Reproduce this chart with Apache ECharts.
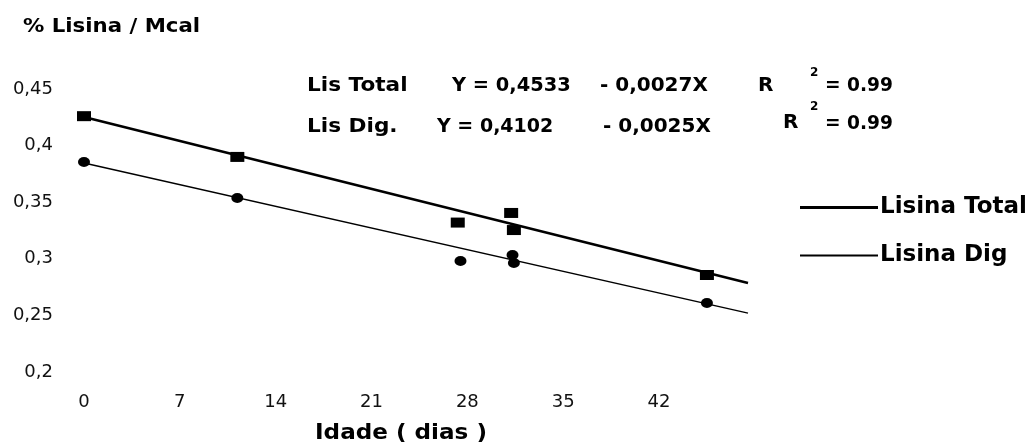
<!DOCTYPE html>
<html>
<head>
<meta charset="utf-8">
<script src="https://cdn.jsdelivr.net/npm/echarts@6/dist/echarts.min.js"></script>
<style>html,body{margin:0;padding:0;background:#fff;}#c{width:1027px;height:443px;}</style>
</head>
<body>
<div id="c"></div>
<script>
// Observed points (age in days, % lysine / Mcal)
const totalX = [0, 11.2, 27.3, 31.2, 31.4, 45.5];
const totalY = [0.426, 0.390, 0.332, 0.3405, 0.3254, 0.2857];
const digX = [0, 11.2, 27.5, 31.3, 31.4, 45.5];
const digY = [0.3855, 0.3537, 0.298, 0.3034, 0.2963, 0.261];
// Fitted lines (end points)
const fitX = [0, 48.5];
const fitTotalY = [0.4253, 0.2786];
const fitDigY = [0.3846, 0.252];
const xTicks = [0, 7, 14, 21, 28, 35, 42];
const yTicks = [0.2, 0.25, 0.3, 0.35, 0.4, 0.45];

const zip = (a, b) => a.map((v, i) => [v, b[i]]);
const font = 'DejaVu Sans';
const chart = echarts.init(document.getElementById('c'));
const txt = (x, y, text, size, sx) => ({
  type: 'text', left: x, top: y, scaleX: sx || 1,
  style: { text: text, font: 'bold ' + size + 'px "' + font + '"', fill: '#000' }
});
const legendBase = {
  orient: 'vertical', left: 800, padding: 0, icon: 'rect', itemWidth: 78,
  textStyle: { fontSize: 23, fontWeight: 'bold', fontFamily: font, color: '#000', padding: [0, 0, 0, -3] }
};

chart.setOption({
  animation: false,
  backgroundColor: '#fff',
  grid: { left: 84, right: 279, top: 89, bottom: 71 },
  xAxis: {
    type: 'value', min: 0, max: 48.5, interval: 7,
    axisLine: { show: false }, axisTick: { show: false }, splitLine: { show: false },
    axisLabel: {
      margin: 21, fontSize: 18, color: '#111', fontFamily: font, showMaxLabel: false,
      formatter: v => xTicks.includes(v) ? String(v) : ''
    }
  },
  yAxis: {
    type: 'value', min: 0.2, max: 0.45, interval: 0.05,
    axisLine: { show: false }, axisTick: { show: false }, splitLine: { show: false },
    axisLabel: {
      margin: 31, fontSize: 18, color: '#111', fontFamily: font,
      formatter: v => {
        const t = yTicks.find(k => Math.abs(k - v) < 1e-9);
        return t === undefined ? '' : String(t).replace('.', ',');
      }
    }
  },
  legend: [
    Object.assign({}, legendBase, { top: 196, itemHeight: 3, data: ['Lisina Total'] }),
    Object.assign({}, legendBase, { top: 244, itemHeight: 2, data: ['Lisina Dig'] })
  ],
  series: [
    { name: 'Lisina Total', type: 'line', symbol: 'none', data: zip(fitX, fitTotalY),
      lineStyle: { color: '#000', width: 2.5 }, itemStyle: { color: '#000' }, z: 2 },
    { name: 'Lisina Dig', type: 'line', symbol: 'none', data: zip(fitX, fitDigY),
      lineStyle: { color: '#000', width: 1.5 }, itemStyle: { color: '#000' }, z: 2 },
    { name: 'Lis Total obs', type: 'scatter', symbol: 'rect', symbolSize: [14, 10],
      data: zip(totalX, totalY), itemStyle: { color: '#000', opacity: 1 }, z: 3 },
    { name: 'Lis Dig obs', type: 'scatter', symbol: 'circle', symbolSize: [12, 10],
      data: zip(digX, digY), itemStyle: { color: '#000', opacity: 1 }, z: 3 }
  ],
  graphic: [
    txt(23, 18, '% Lisina / Mcal', 19, 1.12),
    txt(315, 423, 'Idade ( dias )', 21, 1.1),
    txt(307, 76, 'Lis Total', 20, 1.08),
    txt(452, 76, 'Y = 0,4533', 20, 0.97),
    txt(600, 76, '- 0,0027X', 20),
    txt(758, 76, 'R', 20),
    txt(810, 67, '2', 12),
    txt(825, 76, '= 0.99', 20, 0.93),
    txt(307, 117, 'Lis Dig.', 20, 1.08),
    txt(437, 117, 'Y = 0,4102', 20, 0.95),
    txt(603, 117, '- 0,0025X', 20),
    txt(783, 113, 'R', 20),
    txt(810, 101, '2', 12),
    txt(825, 114, '= 0.99', 20, 0.93)
  ]
});
</script>
</body>
</html>
